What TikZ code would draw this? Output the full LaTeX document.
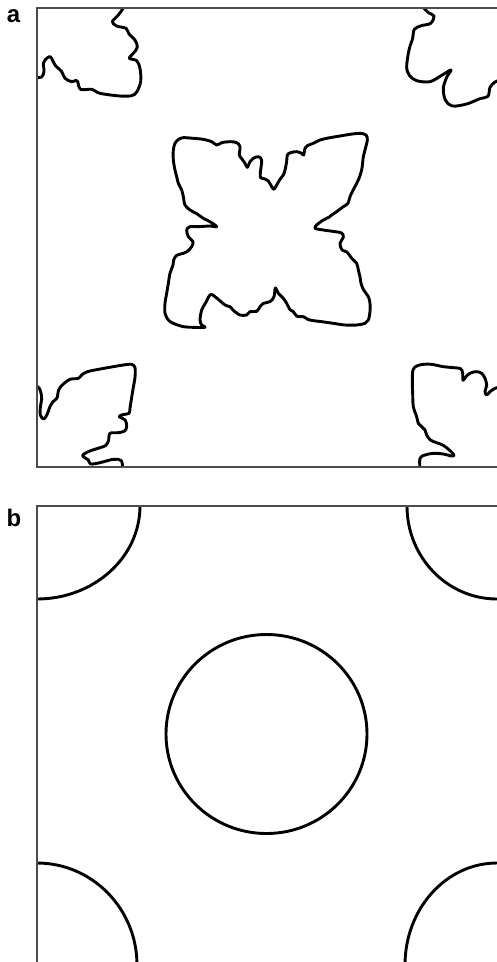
\documentclass[tikz,border=0pt]{standalone}
\usepackage{fontspec}
\setmainfont{Liberation Sans}
\begin{document}
\begin{tikzpicture}[x=1pt,y=-1pt]
\tikzset{
  frame/.style={draw=black!70,line width=1.1pt},
  curve/.style={draw=black,line width=2.9pt,line join=round,line cap=round},
  lbl/.style={font=\bfseries\fontsize{24}{24}\selectfont,inner sep=0pt}
}
\useasboundingbox (0,0) rectangle (497,962);
\fill[white] (0,0) rectangle (497,962);

% labels
\node[lbl] (la) at (13.5,16) {a};
\node[lbl] (lb) at (14,517.5) {b};

% ---------- panel a ----------
\begin{scope}
\clip (37,8) rectangle (497,467);
% top-left blob
\begin{scope}[shift={(0,0)},scale=1/3]
\draw[curve] plot[smooth,tension=0.55] coordinates {
(373,20) (355,45) (337,65) (350,78) (378,85) (387,102) (405,120) (412,142) (400,160) (388,175)
(410,182) (420,205) (422,245) (410,276) (395,287) (360,288) (300,280) (276,268) (242,268)
(233,245) (228,241) (215,245) (195,235) (185,215) (165,195) (155,175) (148,170) (136,179)
(130,190) (132,214) (125,231) (105,233)};
\end{scope}
% top-right blob
\begin{scope}[shift={(250,0)},scale=1/3]
\draw[curve] plot[smooth,tension=0.55] coordinates {
(518,20) (535,38) (552,48) (542,70) (514,77) (493,88) (488,115) (477,150) (470,200) (478,226)
(500,242) (540,245) (575,226) (603,210) (590,232) (580,265) (586,300) (607,318) (650,312)
(690,296) (714,289) (720,262) (735,246) (750,240)};
\end{scope}
% bottom-left blob
\begin{scope}[shift={(0,320)},scale=1/3]
\draw[curve] plot[smooth,tension=0.55] coordinates {
(105,195) (118,205) (125,232) (121,262) (121,285) (131,297) (141,284) (150,260) (159,245)
(171,234) (176,210) (188,194) (210,178) (235,175) (246,164) (262,155) (290,149) (340,140)
(370,135) (395,133) (405,143) (405,172) (400,202) (395,232) (390,264) (387,280) (368,284)
(358,290) (376,301) (380,320) (374,333) (355,338) (330,340) (326,360) (318,376) (300,383)
(275,391) (255,400) (248,408) (265,420) (272,432) (300,428) (340,418) (364,422) (368,450)};
\end{scope}
% bottom-right blob
\begin{scope}[shift={(250,320)},scale=1/3]
\draw[curve] plot[smooth,tension=0.55] coordinates {
(510,450) (510,415) (525,405) (550,400) (580,402) (605,408) (612,405) (600,392) (580,376)
(560,368) (541,360) (530,345) (525,330) (515,320) (505,310) (500,290) (490,260) (488,220)
(487,180) (489,150) (500,138) (520,133) (545,133) (580,140) (610,143) (632,146) (638,160)
(639,181) (648,170) (661,159) (680,155) (695,160) (705,175) (710,195) (705,215) (710,225)
(720,215) (735,205) (750,201)};
\end{scope}
\end{scope}
% central blob
\begin{scope}[shift={(150,90)},scale=1/3]
\draw[curve] plot[smooth cycle,tension=0.55] coordinates {
(75,160) (86,148) (100,143) (130,145) (160,148) (185,155) (200,165) (215,158) (240,155) (260,158)
(270,170) (268,195) (276,207) (285,220) (292,232) (300,215) (310,205) (325,200) (335,210)
(332,240) (331,262) (342,266) (355,273) (365,290) (372,298) (380,285) (390,268) (400,255)
(405,240) (410,215) (412,195) (422,188) (440,185) (455,190) (461,195) (465,175) (472,167)
(490,160) (510,150) (540,143) (570,138) (600,133) (630,130) (648,135) (652,150) (645,180)
(640,200) (635,240) (625,270) (612,295) (600,320) (594,340) (580,350) (560,365) (545,375)
(538,381) (520,390) (500,405) (495,415) (520,420) (555,425) (575,429) (580,442) (570,460)
(576,480) (591,486) (605,505) (620,520) (625,540) (630,560) (633,580) (641,600) (655,620)
(660,640) (660,665) (655,690) (645,700) (620,705) (585,705) (550,700) (515,695) (490,692)
(475,689) (460,680) (441,679) (430,665) (420,659) (410,640) (400,625) (385,610) (376,594)
(372,620) (360,635) (340,640) (330,650) (320,664) (300,665) (290,675) (270,675) (250,661)
(240,650) (225,645) (195,620) (181,614) (166,640) (155,660) (150,690) (155,705) (165,712)
(130,712) (100,710) (70,700) (55,690) (45,670) (45,640) (50,610) (55,580) (60,550) (69,525)
(71,510) (80,496) (100,490) (111,485) (125,470) (129,455) (115,440) (110,420) (120,410)
(145,410) (180,408) (200,410) (180,395) (160,385) (140,371) (120,360) (105,345) (100,320)
(95,300) (85,280) (80,260) (75,240) (70,210) (70,180)};
\end{scope}
\draw[frame] (497,8) -- (37,8) -- (37,467) -- (497,467);

% ---------- panel b ----------
\begin{scope}
\clip (37,506) rectangle (497,970);
\draw[curve] (37,506) ellipse[x radius=103,y radius=93];
\draw[curve] (497,506) ellipse[x radius=90,y radius=93];
\draw[curve] (37,965) ellipse[x radius=100,y radius=102];
\draw[curve] (497,965) ellipse[x radius=92,y radius=102];
\end{scope}
\draw[curve] (266.5,734) ellipse[x radius=100.5,y radius=99.5];
\draw[frame] (497,506) -- (37,506) -- (37,970);
\end{tikzpicture}
\end{document}
